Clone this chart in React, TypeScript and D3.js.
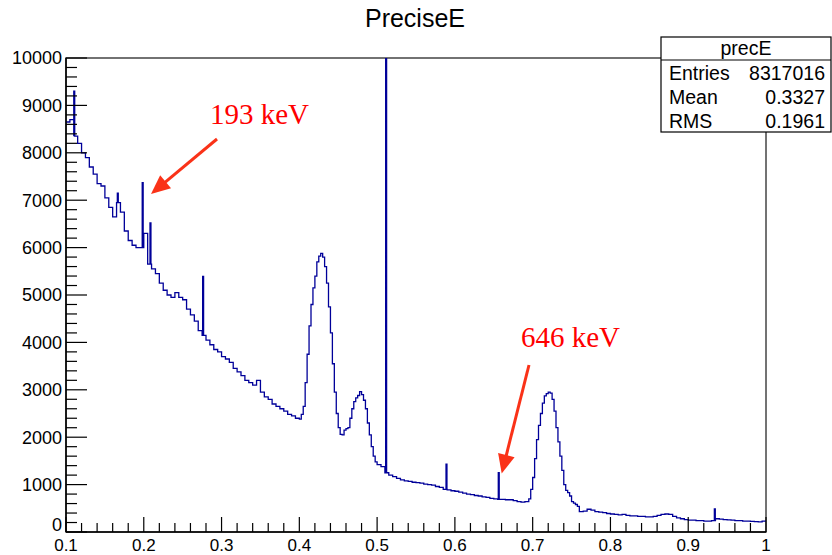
import React from "react";
import * as d3 from "d3";

// ---------- data ----------
const X_START = 0.1;
const BIN_WIDTH = 0.005;
const counts = [
  8650, 8700, 8350, 8200, 8000, 7900, 7700, 7550, 7350, 7300,
  7050, 6850, 6650, 6950, 6750, 6350, 6150, 6050, 6000, 6000,
  6300, 5650, 5550, 5450, 5250, 5100, 5000, 4950, 5050, 4950,
  4900, 4700, 4580, 4450, 4250, 4150, 4050, 3950, 3850, 3800,
  3700, 3650, 3580, 3450, 3380, 3300, 3200, 3150, 3100, 3200,
  2950, 2850, 2800, 2700, 2650, 2600, 2550, 2480, 2450, 2400,
  2480, 2900, 4000, 4900, 5550, 5850, 5700, 4900, 3900, 2700,
  2150, 2080, 2200, 2450, 2750, 2920, 2850, 2400, 1900, 1550,
  1420, 1380, 1250, 1200, 1170, 1130, 1100, 1080, 1070, 1050,
  1040, 1030, 1010, 1000, 990, 960, 940, 900, 890, 870,
  860, 840, 820, 800, 790, 770, 760, 740, 730, 710,
  700, 690, 690, 680, 680, 660, 640, 630, 640, 850,
  1350, 2100, 2650, 2900, 2940, 2650, 2000, 1400, 900, 800,
  620, 580, 430, 440, 480, 460, 430, 420, 410, 390,
  380, 370, 360, 370, 350, 340, 340, 330, 330, 320,
  320, 330, 350, 370, 380, 370, 330, 300, 280, 260,
  250, 250, 240, 240, 230, 230, 240, 280, 270, 260,
  255, 250, 240, 240, 230, 230, 225, 220, 215, 230,
];

// finer readings of the peak regions (bin width 0.0025)
const FINE_WIDTH = 0.0025;
const peakAStart = 0.4;
const peakACounts = [
  2380, 2480, 2650, 3150, 3750, 4350, 4800, 5150, 5400, 5700,
  5820, 5880, 5800, 5600, 5250, 4750, 4200, 3550, 2950, 2500,
  2200, 2060, 2050, 2150, 2180, 2200, 2400, 2600, 2750, 2830,
  2880, 2960, 2900, 2780, 2600, 2300, 2050, 1800, 1600, 1480,
];
const peakBStart = 0.695;
const peakBCounts = [
  700, 900, 1150, 1550, 1950, 2250, 2500, 2720, 2870, 2920,
  2950, 2930, 2800, 2550, 2200, 1900, 1600, 1300, 1000, 880,
  830, 760, 640, 610, 580, 540,
];

const spikeX = [0.110, 0.166, 0.198, 0.208, 0.2757, 0.511, 0.5886, 0.6558, 0.9336];
const spikeY = [9300, 7150, 7370, 6520, 5390, 10500, 1430, 1250, 485];
const SPIKE_WIDTH = 0.0012;

const xTickValues = [0.1, 0.2, 0.3, 0.4, 0.5, 0.6, 0.7, 0.8, 0.9, 1.0];
const xTickLabels = ["0.1", "0.2", "0.3", "0.4", "0.5", "0.6", "0.7", "0.8", "0.9", "1"];
const yTickValues = [0, 1000, 2000, 3000, 4000, 5000, 6000, 7000, 8000, 9000, 10000];
const yTickLabels = ["0", "1000", "2000", "3000", "4000", "5000", "6000", "7000", "8000", "9000", "10000"];

const statNames = ["Entries", "Mean", "RMS"];
const statValues = ["8317016", "0.3327", "0.1961"];

const annotLabels = ["193 keV", "646 keV"];

// ---------- layout ----------
const W = 832;
const H = 555;
const L = 66, R = 766, T = 58, B = 532;

export default function App() {
  const x = d3.scaleLinear().domain([0.1, 1.0]).range([L, R]);
  const y = d3.scaleLinear().domain([0, 10000]).range([B, T]);

  // fine regions
  const fineRegions = [
    { start: peakAStart, vals: peakACounts },
    { start: peakBStart, vals: peakBCounts },
  ].map((r) => ({ ...r, end: r.start + r.vals.length * FINE_WIDTH }));

  const bins: [number, number, number][] = [];
  counts.forEach((v, i) => {
    const lo = X_START + i * BIN_WIDTH;
    const hi = lo + BIN_WIDTH;
    const covered = fineRegions.some((r) => lo >= r.start - 1e-9 && hi <= r.end + 1e-9);
    if (!covered) bins.push([lo, hi, v]);
  });
  fineRegions.forEach((r) =>
    r.vals.forEach((v, i) => {
      const lo = r.start + i * FINE_WIDTH;
      bins.push([lo, lo + FINE_WIDTH, v]);
    })
  );
  bins.sort((a, b) => a[0] - b[0]);

  // split bins around spikes
  const segs: [number, number, number][] = [];
  bins.forEach(([lo, hi, v]) => {
    const sp = spikeX
      .map((sx, k) => ({ sx, h: spikeY[k] }))
      .filter((s) => s.sx >= lo && s.sx < hi)
      .sort((a, b) => a.sx - b.sx);
    let cur = lo;
    sp.forEach((s) => {
      segs.push([cur, s.sx, v]);
      segs.push([s.sx, s.sx + SPIKE_WIDTH, s.h]);
      cur = s.sx + SPIKE_WIDTH;
    });
    segs.push([cur, hi, v]);
  });
  const pts: [number, number][] = [];
  segs.forEach(([a, b, v]) => {
    pts.push([a, v]);
    pts.push([b, v]);
  });
  const line = d3
    .line<[number, number]>()
    .x((d) => x(d[0]))
    .y((d) => y(d[1]));
  const pathD = line(pts) || "";

  const xMinor = d3.range(5, 51).map((i) => i / 50);
  const yMinor = d3.range(0, 51).map((i) => i * 200);

  const font = "'Liberation Sans', Arial, Helvetica, sans-serif";
  const serif = "'Liberation Serif', 'Times New Roman', serif";

  const arrow = (x1: number, y1: number, x2: number, y2: number, color: string) => {
    const dx = x2 - x1, dy = y2 - y1;
    const len = Math.sqrt(dx * dx + dy * dy);
    const ux = dx / len, uy = dy / len;
    const hl = 19, hw = 8.5;
    const bx = x2 - ux * hl, by = y2 - uy * hl;
    const px = -uy, py = ux;
    return (
      <g>
        <line x1={x1} y1={y1} x2={bx + ux * 2} y2={by + uy * 2} stroke={color} strokeWidth={3} />
        <polygon
          points={`${x2},${y2} ${bx + px * hw},${by + py * hw} ${bx - px * hw},${by - py * hw}`}
          fill={color}
        />
      </g>
    );
  };

  return (
    <svg
      width={W}
      height={H}
      style={{ position: "absolute", left: 0, top: 0, display: "block", background: "#fff" }}
    >
      <defs>
        <clipPath id="plotclip">
          <rect x={L} y={T} width={R - L} height={B - T} />
        </clipPath>
      </defs>
      <rect x={0} y={0} width={W} height={H} fill="#fff" />
      {/* title */}
      <text x={415} y={27} fontFamily={font} fontSize={25} textAnchor="middle" fill="#000">
        PreciseE
      </text>
      {/* frame */}
      <rect x={L} y={T} width={R - L} height={B - T} fill="none" stroke="#444" strokeWidth={1.5} />

      {/* histogram */}
      <path d={pathD} fill="none" stroke="#000099" strokeWidth={1.3} clipPath="url(#plotclip)" />

      {/* y axis */}
      <line x1={L} y1={T} x2={L} y2={B} stroke="#000" strokeWidth={1.5} />
      {yMinor.map((v) => (
        <line
          key={"ym" + v}
          x1={L}
          x2={L + (v % 1000 === 0 ? 21 : 11)}
          y1={y(v)}
          y2={y(v)}
          stroke="#000"
          strokeWidth={1.2}
        />
      ))}
      {yTickValues.map((v, i) => (
        <text
          key={"yl" + v}
          x={62}
          y={y(v)}
          dy={v === 0 ? "-0.03em" : "0.36em"}
          textAnchor="end"
          fontFamily={font}
          fontSize={18}
          fill="#000"
        >
          {yTickLabels[i]}
        </text>
      ))}

      {/* x axis */}
      <line x1={L} y1={B} x2={R} y2={B} stroke="#000" strokeWidth={1.5} />
      {xMinor.map((v) => {
        const major = Math.abs(v * 10 - Math.round(v * 10)) < 1e-6;
        return (
          <line
            key={"xm" + v}
            x1={x(v)}
            x2={x(v)}
            y1={B}
            y2={B - (major ? 15 : 9)}
            stroke="#000"
            strokeWidth={1.2}
          />
        );
      })}
      {xTickValues.map((v, i) => (
        <text
          key={"xl" + v}
          x={x(v)}
          y={551.3}
          textAnchor="middle"
          fontFamily={font}
          fontSize={17}
          fill="#000"
        >
          {xTickLabels[i]}
        </text>
      ))}

      {/* stats box */}
      <rect x={661} y={37} width={170} height={95} fill="#fff" stroke="#000" strokeWidth={1.2} />
      <line x1={661} x2={831} y1={60} y2={60} stroke="#000" strokeWidth={1.2} />
      <text x={746} y={55} textAnchor="middle" fontFamily={font} fontSize={19.5} fill="#000">
        precE
      </text>
      {statNames.map((n, i) => (
        <g key={n}>
          <text x={669} y={80 + i * 24} fontFamily={font} fontSize={19.5} fill="#000">
            {n}
          </text>
          <text x={825} y={80 + i * 24} textAnchor="end" fontFamily={font} fontSize={19.5} fill="#000">
            {statValues[i]}
          </text>
        </g>
      ))}

      {/* annotations */}
      <text x={210} y={124} fontFamily={serif} fontSize={29} fill="#ff0000">
        {annotLabels[0]}
      </text>
      {arrow(217, 139, 151, 194, "#fa3218")}
      <text x={521} y={347} fontFamily={serif} fontSize={29} fill="#ff0000">
        {annotLabels[1]}
      </text>
      {arrow(529, 365, 501.7, 473.5, "#fa3218")}
    </svg>
  );
}
